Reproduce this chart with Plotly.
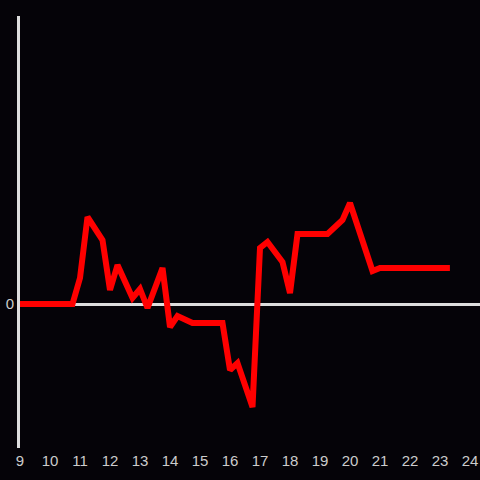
import plotly.graph_objects as go

hours = [9.0, 10.75, 11.0, 11.25, 11.75, 12.0, 12.25, 12.75, 13.0, 13.25, 13.75, 14.0,
         14.25, 14.75, 15.75, 16.0, 16.25, 16.75, 17.0, 17.25, 17.75, 18.0, 18.25,
         19.25, 19.75, 20.0, 20.75, 21.0, 23.33]
values = [0, 0, 26, 87, 64, 14, 39, 6, 15, -4, 36, -23,
          -12, -19, -19, -66, -59, -103, 56, 62, 42, 11, 70,
          70, 84, 101, 33, 36, 36]

x_ticks = list(range(9, 25))

fig = go.Figure()
fig.add_trace(go.Scatter(x=hours, y=values, mode="lines",
                         line=dict(color="#ff0000", width=6), hoverinfo="skip"))

bg = "#050308"
fig.update_layout(
    width=480, height=480,
    margin=dict(l=20, r=0, t=16, b=32, autoexpand=False),
    paper_bgcolor=bg, plot_bgcolor=bg,
    showlegend=False,
    font=dict(family="Liberation Sans, Arial, sans-serif", size=15, color="#cccccc"),
    xaxis=dict(range=[9, 24 + 1/3], tickvals=x_ticks, ticktext=[str(t) for t in x_ticks],
               showgrid=False, zeroline=False, showline=False, ticks="",
               ticklabelstandoff=2),
    yaxis=dict(range=[-144, 288], tickvals=[0], ticktext=["0"], showgrid=False,
               zeroline=True, zerolinecolor="#dddddd", zerolinewidth=3,
               showline=True, linecolor="#dddddd", linewidth=3, ticks=""),
)
fig.write_html("out.html", config={"displayModeBar": False},
               post_script="document.body.style.margin='0';document.body.style.background='#050308';document.body.style.overflow='hidden';")
